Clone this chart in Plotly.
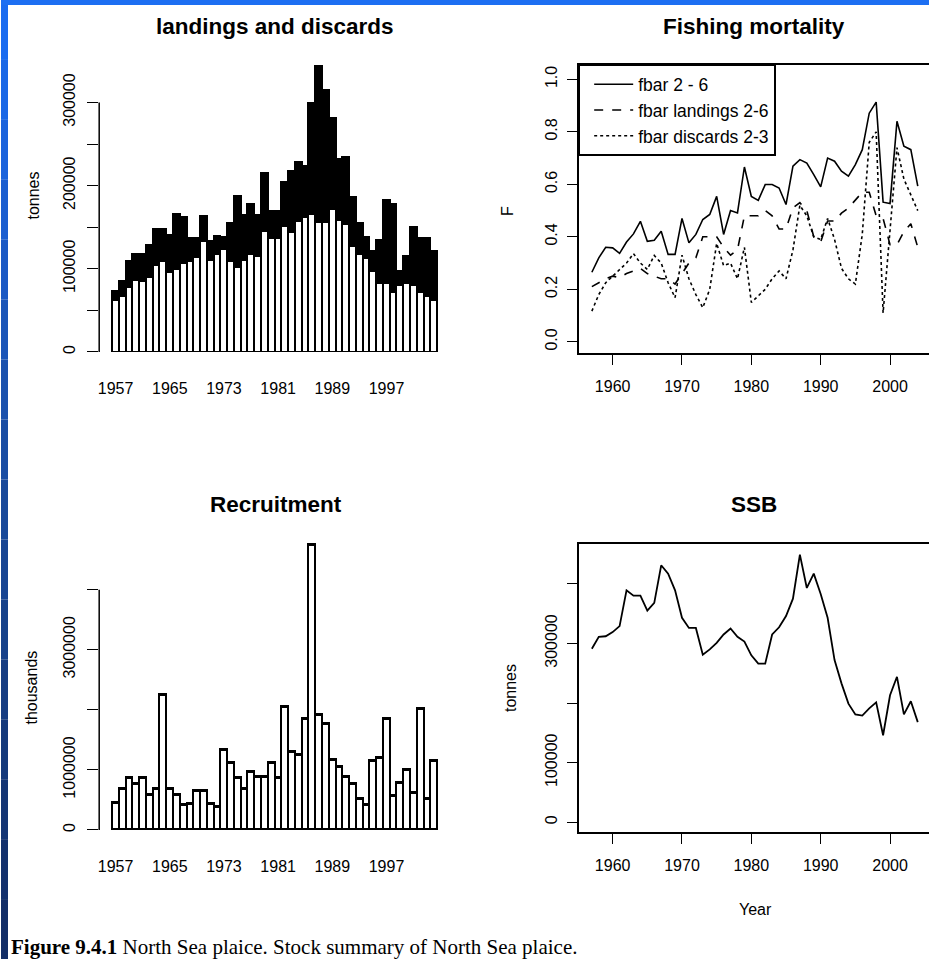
import plotly.graph_objects as go

# ---------------- data ----------------
years = list(range(1957, 2005))

landings = [63000, 68000, 78000, 87000, 85000, 90000, 105000, 109000, 96000, 100000,
            107000, 109000, 114000, 133000, 111000, 118000, 124000, 109000, 102000, 111000,
            118000, 116000, 146000, 137000, 137000, 152000, 144000, 158000, 163000, 166000,
            156000, 156000, 172000, 159000, 154000, 127000, 118000, 113000, 98000, 83000,
            83000, 72000, 81000, 83000, 81000, 72000, 68000, 63000]

discards = [11000, 17000, 31000, 31000, 33000, 39000, 43000, 39000, 45000, 66000,
            56000, 28000, 23000, 31000, 22000, 22000, 14000, 46000, 86000, 54000,
            60000, 49000, 69000, 33000, 33000, 52000, 74000, 71000, 61000, 134000,
            188000, 159000, 110000, 73000, 81000, 60000, 37000, 25000, 24000, 52000,
            100000, 106000, 17000, 33000, 69000, 65000, 69000, 59000]

recruitment = [460000, 692000, 875000, 775000, 875000, 592000, 692000, 2259000, 692000, 592000,
               415000, 437000, 659000, 659000, 437000, 382000, 1340000, 1124000, 875000, 692000,
               975000, 897000, 897000, 1124000, 875000, 2049000, 1312000, 1257000, 1849000, 4756000,
               1921000, 1772000, 1179000, 1047000, 897000, 775000, 515000, 426000, 1152000, 1207000,
               1849000, 565000, 792000, 1008000, 620000, 2027000, 515000, 1152000]

fbar = [0.265, 0.320, 0.360, 0.358, 0.337, 0.380, 0.411, 0.459, 0.383, 0.387,
        0.421, 0.333, 0.333, 0.470, 0.377, 0.409, 0.466, 0.485, 0.554, 0.409,
        0.500, 0.491, 0.666, 0.554, 0.539, 0.599, 0.599, 0.586, 0.523, 0.669,
        0.694, 0.681, 0.637, 0.590, 0.700, 0.688, 0.650, 0.631, 0.675, 0.732,
        0.871, 0.913, 0.532, 0.527, 0.840, 0.745, 0.732, 0.593]

fbar_landings = [0.210, 0.225, 0.240, 0.250, 0.245, 0.260, 0.270, 0.280, 0.260, 0.250,
                 0.240, 0.240, 0.220, 0.260, 0.300, 0.320, 0.400, 0.400, 0.400, 0.360,
                 0.330, 0.350, 0.480, 0.480, 0.480, 0.500, 0.480, 0.430, 0.430, 0.510,
                 0.530, 0.500, 0.400, 0.380, 0.460, 0.460, 0.490, 0.510, 0.540, 0.570,
                 0.570, 0.480, 0.470, 0.370, 0.370, 0.420, 0.450, 0.360]

fbar_discards = [0.117, 0.180, 0.225, 0.250, 0.276, 0.300, 0.336, 0.300, 0.276, 0.329,
                 0.300, 0.225, 0.168, 0.330, 0.240, 0.180, 0.130, 0.200, 0.375, 0.290,
                 0.300, 0.240, 0.360, 0.150, 0.175, 0.200, 0.240, 0.270, 0.240, 0.350,
                 0.520, 0.480, 0.400, 0.390, 0.470, 0.390, 0.280, 0.240, 0.220, 0.410,
                 0.760, 0.800, 0.110, 0.410, 0.740, 0.620, 0.560, 0.500]

ssb = [291000, 311000, 312000, 319000, 329000, 389000, 380000, 380000, 355000, 368000,
       431000, 417000, 389000, 343000, 326000, 326000, 281000, 290000, 301000, 315000,
       325000, 311000, 303000, 280000, 266000, 266000, 315000, 327000, 346000, 375000,
       449000, 393000, 417000, 383000, 343000, 272000, 233000, 199000, 181000, 179000,
       191000, 201000, 146000, 213000, 244000, 181000, 203000, 168000]

bar_tick_years = [1957, 1965, 1973, 1981, 1989, 1997]
line_tick_years = [1960, 1970, 1980, 1990, 2000]

land_tickvals = [0, 50000, 100000, 150000, 200000, 250000, 300000]
land_ticktext = ["0", "", "100000", "", "200000", "", "300000"]
rec_tickvals = [0, 1000000, 2000000, 3000000, 4000000]
rec_ticktext = ["0", "1000000", "", "3000000", ""]
f_tickvals = [0.0, 0.2, 0.4, 0.6, 0.8, 1.0]
f_ticktext = ["0.0", "0.2", "0.4", "0.6", "0.8", "1.0"]
ssb_tickvals = [0, 100000, 200000, 300000, 400000]
ssb_ticktext = ["0", "100000", "", "300000", ""]

frame_left_colors = ["#1b6cf0", "#1b68e6", "#1b63dc", "#1b5ed0", "#1b59c4", "#1b55b8",
                     "#1b51ad", "#1a4da3", "#19499a", "#184592", "#17418a", "#163d82",
                     "#15397b", "#143574", "#13316d", "#122e67"]
frame_top_color = "#1d6ff2"

# ---------------- layout helpers ----------------
W, H = 929, 961
FONT = "Liberation Sans, Arial, sans-serif"
TICKSIZE = 16


def xd(a, b):
    return [a / W, min(b / W, 1.0)]


def yd(top, bottom):
    return [1 - bottom / H, 1 - top / H]


fig = go.Figure()

# landings and discards (stacked bars)
fig.add_trace(go.Bar(x=years, y=landings, width=1, marker=dict(color="white", line=dict(color="black", width=2.2)),
                     xaxis="x", yaxis="y", showlegend=False))
fig.add_trace(go.Bar(x=years, y=discards, width=1, marker=dict(color="black", line=dict(color="black", width=2.2)),
                     xaxis="x", yaxis="y", showlegend=False))

# fishing mortality
fig.add_trace(go.Scatter(x=years, y=fbar, mode="lines", name="fbar 2 - 6",
                         line=dict(color="black", width=1.6), xaxis="x2", yaxis="y2"))
fig.add_trace(go.Scatter(x=years, y=fbar_landings, mode="lines", name="fbar landings 2-6",
                         line=dict(color="black", width=1.6, dash="dash"), xaxis="x2", yaxis="y2"))
fig.add_trace(go.Scatter(x=years, y=fbar_discards, mode="lines", name="fbar discards 2-3",
                         line=dict(color="black", width=1.6, dash="dot"), xaxis="x2", yaxis="y2"))

# recruitment
fig.add_trace(go.Bar(x=years, y=recruitment, width=1, marker=dict(color="white", line=dict(color="black", width=2.2)),
                     xaxis="x3", yaxis="y3", showlegend=False))

# SSB
fig.add_trace(go.Scatter(x=years, y=ssb, mode="lines", line=dict(color="black", width=1.8),
                         xaxis="x4", yaxis="y4", showlegend=False))

tickfont = dict(family=FONT, size=TICKSIZE, color="black")

bar_x = dict(range=[1954.58, 2006.42], tickvals=bar_tick_years, ticks="outside", ticklen=22,
             tickcolor="rgba(0,0,0,0)", showline=False, showgrid=False, zeroline=False, tickfont=tickfont)
line_x = dict(range=[1955.10, 2005.62], tickvals=line_tick_years, ticks="outside", ticklen=10,
              tickwidth=1.3, tickcolor="black", showline=True, linecolor="black", linewidth=1.5, mirror=True,
              showgrid=False, zeroline=False, tickfont=tickfont, ticklabelstandoff=8)

fig.update_layout(
    width=W, height=H, margin=dict(l=0, r=0, t=0, b=0),
    paper_bgcolor="white", plot_bgcolor="white",
    barmode="stack", bargap=0,
    font=dict(family=FONT, color="black"),
    xaxis=dict(domain=xd(98.3, 449.8), anchor="y", **bar_x),
    yaxis=dict(domain=yd(61, 352.7), anchor="x", range=[0, 350000], tickvals=land_tickvals,
               ticktext=land_ticktext, ticks="outside", ticklen=11, tickwidth=1.3, tickcolor="black",
               tickangle=-90, showline=False, showgrid=False, zeroline=False, tickfont=tickfont,
               ticklabelstandoff=6),
    xaxis2=dict(domain=xd(578.3, 929), anchor="y2", **line_x),
    yaxis2=dict(domain=yd(65, 354), anchor="x2", range=[-0.0437, 1.0551], tickvals=f_tickvals,
                ticktext=f_ticktext, ticks="outside", ticklen=10, tickwidth=1.3, tickcolor="black",
                tickangle=-90, showline=True, linecolor="black", linewidth=1.5, mirror=False,
                showgrid=False, zeroline=False, tickfont=tickfont, ticklabelstandoff=4),
    xaxis3=dict(domain=xd(98.3, 449.8), anchor="y3", **bar_x),
    yaxis3=dict(domain=yd(536.7, 831.7), anchor="x3", range=[0, 4900000], tickvals=rec_tickvals,
                ticktext=rec_ticktext, ticks="outside", ticklen=11, tickwidth=1.3, tickcolor="black",
                tickangle=-90, showline=False, showgrid=False, zeroline=False, tickfont=tickfont,
                ticklabelstandoff=6),
    xaxis4=dict(domain=xd(578.3, 929), anchor="y4", **line_x),
    yaxis4=dict(domain=yd(545, 834), anchor="x4", range=[-16736, 466946], tickvals=ssb_tickvals,
                ticktext=ssb_ticktext, ticks="outside", ticklen=10, tickwidth=1.3, tickcolor="black",
                tickangle=-90, showline=True, linecolor="black", linewidth=1.5, mirror=False,
                showgrid=False, zeroline=False, tickfont=tickfont, ticklabelstandoff=4),
    legend=dict(x=578.3 / W, y=1 - 65 / H, xanchor="left", yanchor="top", bordercolor="black",
                borderwidth=1.5, bgcolor="white", font=dict(family=FONT, size=17.5, color="black"),
                itemwidth=39, indentation=9, tracegroupgap=0, traceorder="normal"),
)

# R-style y axis lines spanning only the tick range on the bar charts
fig.add_shape(type="line", xref="x domain", yref="y", x0=0, x1=0, y0=land_tickvals[0], y1=land_tickvals[-1],
              line=dict(color="black", width=1.5))
fig.add_shape(type="line", xref="x3 domain", yref="y3", x0=0, x1=0, y0=rec_tickvals[0], y1=rec_tickvals[-1],
              line=dict(color="black", width=1.5))

# blue slide frame
n = len(frame_left_colors)
for i, c in enumerate(frame_left_colors):
    fig.add_shape(type="rect", xref="paper", yref="paper", x0=0, x1=7 / W,
                  y0=1 - (i + 1) / n, y1=1 - i / n, line=dict(width=0), fillcolor=c, layer="above")
fig.add_shape(type="rect", xref="paper", yref="paper", x0=0, x1=1, y0=1 - 5 / H, y1=1,
              line=dict(width=0), fillcolor=frame_top_color, layer="above")

# titles and axis labels
def ann(text, x, y, size, angle=0, bold=False, family=FONT, xanchor="center"):
    fig.add_annotation(text=f"<b>{text}</b>" if bold else text, x=x / W, y=1 - y / H, xref="paper",
                       yref="paper", showarrow=False, textangle=angle, xanchor=xanchor, yanchor="middle",
                       font=dict(family=family, size=size, color="black"))


ann("landings and discards", 274.5, 27, 22.5, bold=True)
ann("Fishing mortality", 754, 27, 22.5, bold=True)
ann("Recruitment", 275, 506, 22.5, bold=True)
ann("SSB", 754, 506, 22.5, bold=True)
ann("tonnes", 33, 196, 16, angle=-90)
ann("F", 507, 211, 16, angle=-90)
ann("thousands", 31, 689, 16, angle=-90)
ann("tonnes", 510, 689, 16, angle=-90)
ann("Year", 755, 911, 16)

fig.add_annotation(text="<b>Figure 9.4.1</b> North Sea plaice. Stock summary of North Sea plaice.",
                   x=8 / W, y=1 - 949 / H, xref="paper", yref="paper", showarrow=False,
                   xanchor="left", yanchor="middle",
                   font=dict(family="Liberation Serif, Times New Roman, serif", size=21, color="black"))

fig.write_html("out.html", config={"displayModeBar": False},
               post_script="document.body.style.margin='0';document.body.style.overflow='hidden';")
